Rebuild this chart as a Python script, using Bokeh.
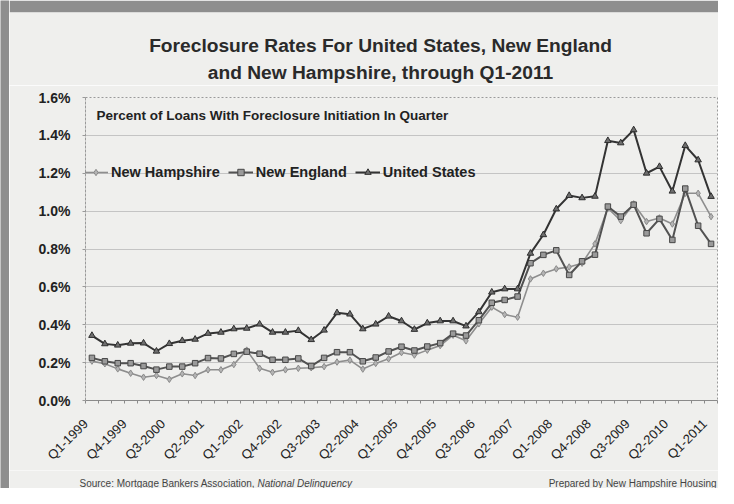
from bokeh.plotting import figure
from bokeh.layouts import row, column
from bokeh.models import (FixedTicker, PrintfTickFormatter, Label, Legend,
                          LegendItem, ColumnDataSource)
from bokeh.embed import file_html
from bokeh.resources import INLINE

quarters = ["Q1-1999", "Q2-1999", "Q3-1999", "Q4-1999",
            "Q1-2000", "Q2-2000", "Q3-2000", "Q4-2000",
            "Q1-2001", "Q2-2001", "Q3-2001", "Q4-2001",
            "Q1-2002", "Q2-2002", "Q3-2002", "Q4-2002",
            "Q1-2003", "Q2-2003", "Q3-2003", "Q4-2003",
            "Q1-2004", "Q2-2004", "Q3-2004", "Q4-2004",
            "Q1-2005", "Q2-2005", "Q3-2005", "Q4-2005",
            "Q1-2006", "Q2-2006", "Q3-2006", "Q4-2006",
            "Q1-2007", "Q2-2007", "Q3-2007", "Q4-2007",
            "Q1-2008", "Q2-2008", "Q3-2008", "Q4-2008",
            "Q1-2009", "Q2-2009", "Q3-2009", "Q4-2009",
            "Q1-2010", "Q2-2010", "Q3-2010", "Q4-2010",
            "Q1-2011"]

new_hampshire = [0.208, 0.194, 0.167, 0.144, 0.123, 0.132, 0.112, 0.141, 0.132, 0.162,
                 0.162, 0.190, 0.266, 0.170, 0.149, 0.162, 0.170, 0.173, 0.179, 0.203,
                 0.213, 0.166, 0.196, 0.220, 0.253, 0.240, 0.266, 0.290, 0.345, 0.315,
                 0.405, 0.493, 0.454, 0.440, 0.642, 0.672, 0.695, 0.705, 0.725, 0.827,
                 1.016, 0.950, 1.038, 0.945, 0.964, 0.932, 1.094, 1.094, 0.971]

new_england = [0.225, 0.207, 0.197, 0.197, 0.182, 0.163, 0.179, 0.179, 0.197, 0.224,
               0.222, 0.246, 0.258, 0.247, 0.215, 0.215, 0.222, 0.182, 0.225, 0.255,
               0.255, 0.207, 0.227, 0.259, 0.284, 0.264, 0.285, 0.303, 0.353, 0.343,
               0.424, 0.516, 0.531, 0.549, 0.725, 0.769, 0.793, 0.663, 0.735, 0.770,
               1.024, 0.971, 1.034, 0.883, 0.959, 0.848, 1.119, 0.923, 0.827]

united_states = [0.343, 0.299, 0.292, 0.302, 0.303, 0.260, 0.300, 0.316, 0.323, 0.354,
                 0.360, 0.378, 0.381, 0.403, 0.360, 0.360, 0.369, 0.321, 0.371, 0.463,
                 0.456, 0.378, 0.403, 0.445, 0.420, 0.375, 0.409, 0.420, 0.420, 0.393,
                 0.468, 0.572, 0.589, 0.589, 0.777, 0.875, 1.011, 1.082, 1.070, 1.078,
                 1.372, 1.360, 1.429, 1.200, 1.235, 1.105, 1.346, 1.270, 1.077]

tick_labels = ["Q1-1999", "Q4-1999", "Q3-2000", "Q2-2001", "Q1-2002", "Q4-2002",
               "Q3-2003", "Q2-2004", "Q1-2005", "Q4-2005", "Q3-2006", "Q2-2007",
               "Q1-2008", "Q4-2008", "Q3-2009", "Q2-2010", "Q1-2011"]

y_ticks = [0.0, 0.2, 0.4, 0.6, 0.8, 1.0, 1.2, 1.4, 1.6]

title_lines = ["Foreclosure Rates For United States, New England",
               "and New Hampshire, through Q1-2011"]
subtitle = "Percent of Loans With Foreclosure Initiation In Quarter"
source_plain = "Source: Mortgage Bankers Association, "
source_italic = "National Delinquency"
prepared = "Prepared by New Hampshire Housing"

FONT = "Liberation Sans"
BG = "#efefed"
EDGE = "#8e8e8e"
STRIP_W = 9
COL_W = 709


def blank_figure(w, h, **kw):
    f = figure(width=w, height=h, output_backend="svg", toolbar_location=None,
               x_axis_location=None, y_axis_location=None,
               min_border_left=0, min_border_right=0, min_border_top=0,
               min_border_bottom=0, frame_align=False, **kw)
    f.grid.visible = False
    f.outline_line_color = None
    f.background_fill_color = BG
    f.border_fill_color = BG
    return f


def add_label(f, text, x, y, size, style="normal", color="#222222", align="left"):
    f.add_layout(Label(x=x, y=y, x_units="screen", y_units="screen", text=text,
                       text_font=FONT, text_font_size=size, text_font_style=style,
                       text_color=color, text_align=align, text_baseline="middle"))


# ---- left page edge
strip = blank_figure(STRIP_W, 488)
strip.background_fill_color = EDGE
strip.border_fill_color = EDGE

# ---- title block (top 12px are the scanned page edge)
top = blank_figure(COL_W, 85)
top.min_border_top = 12
top.border_fill_color = EDGE
add_label(top, title_lines[0], 371, 40, "19.2px", "bold", "#2a2a2a", "center")
add_label(top, title_lines[1], 371, 13, "19.2px", "bold", "#2a2a2a", "center")

# ---- main chart
idx = list(range(len(quarters)))
src = ColumnDataSource(dict(x=idx, nh=new_hampshire, ne=new_england, us=united_states))

p = figure(width=COL_W, height=385, output_backend="svg", toolbar_location=None,
           x_range=(-0.5, len(quarters) - 0.5), y_range=(0, 1.6),
           min_border_left=76, min_border_right=1, min_border_top=12,
           min_border_bottom=70, frame_align=False)
p.background_fill_color = BG
p.border_fill_color = BG
p.outline_line_color = "#9a9a9a"
p.outline_line_dash = "2 2"

label_shift = -0.49
tick_pos = [quarters.index(t) + label_shift for t in tick_labels]
p.xaxis.ticker = FixedTicker(ticks=tick_pos,
                             minor_ticks=[i + 0.5 for i in range(-1, len(quarters))])
p.xaxis.major_label_overrides = {tp: t for tp, t in zip(tick_pos, tick_labels)}
p.xaxis.major_label_orientation = 0.785398
p.xaxis.major_tick_line_color = None
p.xaxis.minor_tick_out = 3
p.xaxis.minor_tick_in = 0
p.xaxis.minor_tick_line_color = "#8a8a8a"
p.xaxis.axis_line_color = "#8a8a8a"
p.xaxis.major_label_standoff = 15
p.xaxis.major_label_text_font = FONT
p.xaxis.major_label_text_font_size = "13px"
p.xaxis.major_label_text_color = "#222222"

p.yaxis.ticker = FixedTicker(ticks=y_ticks)
p.yaxis.formatter = PrintfTickFormatter(format="%.1f%%")
p.yaxis.axis_line_color = "#9a9a9a"
p.yaxis.axis_line_dash = "2 2"
p.yaxis.major_tick_out = 3
p.yaxis.major_tick_in = 0
p.yaxis.major_tick_line_color = "#9a9a9a"
p.yaxis.minor_tick_line_color = None
p.yaxis.major_label_standoff = 12
p.yaxis.major_label_text_font = FONT
p.yaxis.major_label_text_font_size = "14px"
p.yaxis.major_label_text_font_style = "bold"
p.yaxis.major_label_text_color = "#222222"

p.xgrid.grid_line_color = None
p.ygrid.grid_line_color = "#c4c4c4"
p.ygrid.grid_line_width = 1

nh_line = p.line("x", "nh", source=src, line_color="#8e8e8e", line_width=1.6)
nh_pts = p.scatter("x", "nh", source=src, marker="diamond", size=6.5,
                   fill_color="#b4b4b4", line_color="#8a8a8a")
ne_line = p.line("x", "ne", source=src, line_color="#525252", line_width=2)
ne_pts = p.scatter("x", "ne", source=src, marker="square", size=5.5,
                   fill_color="#9a9a9a", line_color="#474747")
us_line = p.line("x", "us", source=src, line_color="#333333", line_width=2)
us_pts = p.scatter("x", "us", source=src, marker="triangle", size=6.5,
                   fill_color="#6e6e6e", line_color="#2e2e2e")

legend = Legend(items=[LegendItem(label="New Hampshire", renderers=[nh_line, nh_pts]),
                       LegendItem(label="New England", renderers=[ne_line, ne_pts]),
                       LegendItem(label="United States", renderers=[us_line, us_pts])],
                orientation="horizontal", location=(-2, 220), glyph_width=25,
                glyph_height=16, label_height=16, label_standoff=3, spacing=8,
                padding=0, margin=0, border_line_color=None, background_fill_alpha=0,
                label_text_font=FONT, label_text_font_style="bold",
                label_text_font_size="14.5px", label_text_color="#222222")
p.add_layout(legend)

add_label(p, subtitle, 11, 285, "13.5px", "bold", "#222222")

# ---- source line
bot = blank_figure(COL_W, 18)
add_label(bot, source_plain, 70, 5, "10px", "normal", "#444444")
add_label(bot, source_italic, 248, 5, "10px", "italic", "#444444")
add_label(bot, prepared, 707, 5, "10px", "normal", "#444444", "right")

layout = row(strip, column(top, p, bot, spacing=0), spacing=0)

open("out.html", "w").write(file_html(layout, INLINE))
